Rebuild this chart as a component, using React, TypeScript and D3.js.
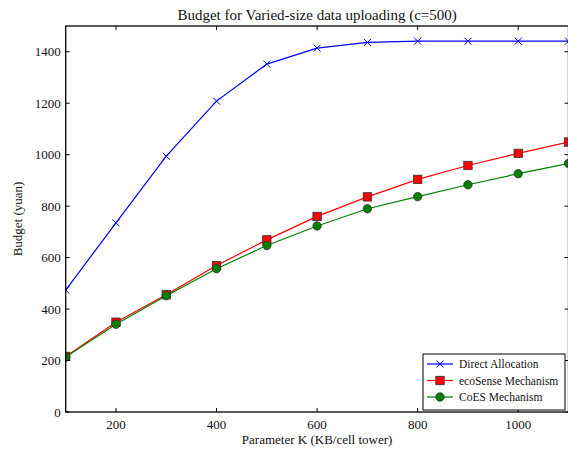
import React from "react";
import * as d3 from "d3";

const kValues = [100, 200, 300, 400, 500, 600, 700, 800, 900, 1000, 1100];
const directAllocation = [474, 735, 994, 1208, 1352, 1414, 1436, 1441, 1441, 1441, 1441];
const ecoSense = [216, 349, 456, 569, 669, 760, 836, 904, 958, 1005, 1049];
const coES = [214, 341, 452, 557, 647, 723, 790, 837, 883, 926, 966];
const xTicks = [200, 400, 600, 800, 1000];
const yTicks = [0, 200, 400, 600, 800, 1000, 1200, 1400];
const seriesNames = ["Direct Allocation", "ecoSense Mechanism", "CoES Mechanism"];

const W = 568;
const H = 450;
const left = 65.7;
const right = 568.5;
const top = 26;
const bottom = 412;
const font = "'Liberation Serif', 'DejaVu Serif', serif";

export default function App() {
  const x = d3.scaleLinear().domain([100, 1100]).range([left, right]);
  const y = d3.scaleLinear().domain([0, 1500]).range([bottom, top]);
  const line = d3
    .line<[number, number]>()
    .x((d) => x(d[0]))
    .y((d) => y(d[1]));
  const pts = (vals: number[]) => kValues.map((k, i) => [k, vals[i]] as [number, number]);

  const series = [
    { name: seriesNames[0], color: "#0000ff", vals: directAllocation, marker: "x" },
    { name: seriesNames[1], color: "#ff0000", vals: ecoSense, marker: "s" },
    { name: seriesNames[2], color: "#008000", vals: coES, marker: "o" },
  ];

  const drawMarker = (m: string, color: string, cx: number, cy: number, key: string) => {
    if (m === "x") {
      const r = 3.5;
      return (
        <path
          key={key}
          d={`M${cx - r},${cy - r}L${cx + r},${cy + r}M${cx - r},${cy + r}L${cx + r},${cy - r}`}
          stroke={color}
          strokeWidth={1}
          fill="none"
        />
      );
    }
    if (m === "s") {
      const r = 4.2;
      return (
        <rect key={key} x={cx - r} y={cy - r} width={2 * r} height={2 * r} fill={color} stroke="#333" strokeWidth={0.8} />
      );
    }
    return <circle key={key} cx={cx} cy={cy} r={4.2} fill={color} stroke="#333" strokeWidth={0.8} />;
  };

  const legX = 423;
  const legY = 354;
  const legW = 142;
  const legH = 56;
  const ts = { fontFamily: font };

  return (
    <svg
      width={W}
      height={H}
      style={{ position: "absolute", left: 0, top: 0, display: "block", background: "#fff", fontFamily: font }}
    >
      <defs>
        <clipPath id="plotclip">
          <rect x={left} y={top} width={right - left} height={bottom - top} />
        </clipPath>
      </defs>
      <text x={(left + right) / 2} y={20} textAnchor="middle" fontSize={15} fill="#111" style={ts}>
        Budget for Varied-size data uploading (c=500)
      </text>

      <g clipPath="url(#plotclip)">
        {series.map((s) => (
          <g key={s.name}>
            <path d={line(pts(s.vals)) || ""} fill="none" stroke={s.color} strokeWidth={1.2} />
            {pts(s.vals).map((p, i) => drawMarker(s.marker, s.color, x(p[0]), y(p[1]), s.name + i))}
          </g>
        ))}
      </g>

      {/* frame */}
      <rect x={left} y={top} width={right - left} height={bottom - top} fill="none" stroke="#000" strokeWidth={1.3} />

      {/* x ticks */}
      {xTicks.map((t) => (
        <g key={"x" + t}>
          <line x1={x(t)} x2={x(t)} y1={bottom} y2={bottom - 4} stroke="#000" />
          <line x1={x(t)} x2={x(t)} y1={top} y2={top + 4} stroke="#000" />
          <text x={x(t)} y={bottom + 17} textAnchor="middle" fontSize={13} fill="#111" style={ts}>
            {t}
          </text>
        </g>
      ))}
      {/* y ticks */}
      {yTicks.map((t) => (
        <g key={"y" + t}>
          <line x1={left} x2={left + 4} y1={y(t)} y2={y(t)} stroke="#000" />
          <line x1={right} x2={right - 4} y1={y(t)} y2={y(t)} stroke="#000" />
          <text x={left - 5} y={y(t) + 4.5} textAnchor="end" fontSize={13} fill="#111" style={ts}>
            {t}
          </text>
        </g>
      ))}

      <text x={(left + right) / 2} y={444} textAnchor="middle" fontSize={13} fill="#111" style={ts}>
        Parameter K (KB/cell tower)
      </text>
      <text
        transform={`translate(22,${(top + bottom) / 2}) rotate(-90)`}
        textAnchor="middle"
        fontSize={13}
        fill="#111"
        style={ts}
      >
        Budget (yuan)
      </text>

      {/* legend */}
      <rect x={legX} y={legY} width={legW} height={legH} fill="#fff" stroke="#000" strokeWidth={1} />
      {series.map((s, i) => {
        const ly = legY + 10 + i * 16.5;
        return (
          <g key={"leg" + i}>
            <line x1={legX + 4} x2={legX + 30} y1={ly} y2={ly} stroke={s.color} strokeWidth={1.2} />
            {drawMarker(s.marker, s.color, legX + 17, ly, "lm" + i)}
            <text x={legX + 36} y={ly + 4} fontSize={11.5} fill="#111" style={ts}>
              {s.name}
            </text>
          </g>
        );
      })}
    </svg>
  );
}
